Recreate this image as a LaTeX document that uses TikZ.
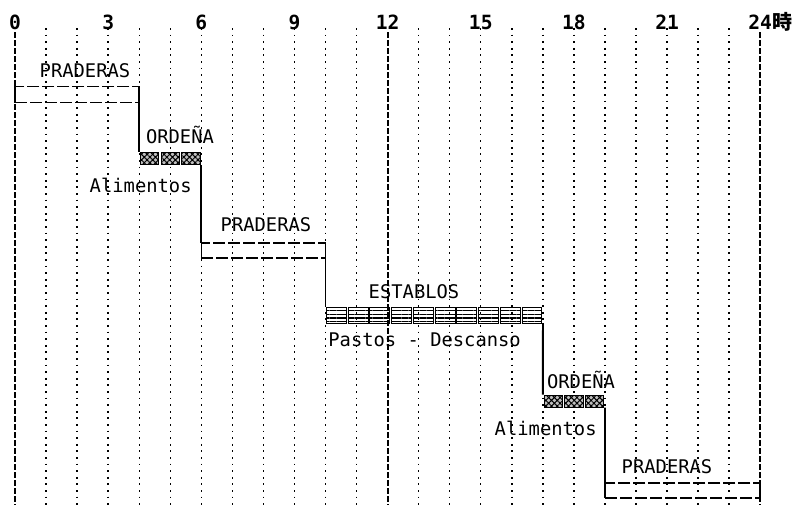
\documentclass[tikz,border=0pt]{standalone}
\usepackage{fontspec}
\setmonofont{DejaVu Sans Mono}
\newfontfamily\cjk{Noto Sans CJK JP}
\usepackage{tikz}
\usetikzlibrary{calc,patterns,patterns.meta}

\begin{document}
\begin{tikzpicture}[x=0.5pt, y=-0.5pt,
    every node/.style={font=\ttfamily\fontsize{9.4}{11}\selectfont, inner sep=0pt},
    hourline/.style={line width=0.7pt, dash pattern=on 0.9pt off 2.4pt},
    mainline/.style={line width=1pt, dash pattern=on 3pt off 1pt},
    pasture/.style={draw, line width=0.7pt, dash pattern=on 6pt off 1.5pt, minimum height=8pt, outer sep=0pt,
        append after command={(\tikzlastnode.north west) edge[solid, line width=0.8pt] (\tikzlastnode.south west)
            (\tikzlastnode.north east) edge[solid, line width=0.8pt] (\tikzlastnode.south east)}},
    slot/.style={minimum height=6.5pt, outer sep=0pt},
    checker/.style={draw, line width=0.4pt, fill=gray!50, postaction={pattern={Hatch[angle=45,distance=2pt,line width=0.5pt]}}},
    stable/.style={draw, line width=0.5pt, pattern={Lines[angle=0,distance=1.8pt,line width=0.7pt]}},
    link/.style={line width=0.9pt}]
        \useasboundingbox (0,0) rectangle (793,505);

        % hour grid
        \foreach \h in {1,...,11,13,14,...,23} {
            \draw[hourline] ({15+31.05*\h},28) -- ({15+31.05*\h},505);
        }
        \foreach \h in {0,12,24} {\draw[mainline] ({15+31.05*\h},32) -- ({15+31.05*\h},505);}
        \foreach \h in {0,3,...,21} {\node[font=\ttfamily\bfseries\fontsize{9.8}{11}\selectfont] (t\h) at ({15+31.05*\h},22) {\h};}
        \node[font=\ttfamily\bfseries\fontsize{9.8}{11}\selectfont] (t24) at (760.2,22) {24};
        \node[anchor=west, font=\cjk\bfseries\fontsize{10}{11}\selectfont] (ji) at (t24.east) {時};

        % pasture, milking, stable blocks
        \node[pasture, minimum width=62.1pt] (p1) at (77.1,94.5) {};
        \node[slot, minimum width=31.05pt] (o1) at (170.25,158.5) {};
        \foreach \i in {0,1,2} {\draw[checker] ($(o1.north west)+(\i*10.35pt+0.6pt,-0.3pt)$) rectangle ++(9.2pt,-5.9pt);}
        \node[pasture, minimum width=62.1pt, minimum height=7.5pt] (p2) at (263.4,250.5) {};
        \node[slot, minimum width=108.7pt, minimum height=8pt] (e) at (434.2,315) {};
        \foreach \i in {0,...,9} {\draw[stable] ($(e.north west)+(\i*10.87pt+0.5pt,0)$) rectangle ++(9.9pt,-8pt);}
        \node[slot, minimum width=31.05pt] (o2) at (573.9,401) {};
        \foreach \i in {0,1,2} {\draw[checker] ($(o2.north west)+(\i*10.35pt+0.6pt,-0.3pt)$) rectangle ++(9.2pt,-5.9pt);}
        \node[pasture, minimum width=77.6pt, minimum height=7.5pt] (p3) at (682.6,490.5) {};

        % transitions
        \draw[link] (p1.south east) -- (o1.north west);
        \draw[link] (o1.south east) -- (p2.north west);
        \draw[link] (p2.south east) -- (e.north west);
        \draw[link] (e.south east) -- (o2.north west);
        \draw[link] (o2.south east) -- (p3.north west);

        % labels
        \node (lp1) at (85,71) {PRADERAS};
        \node (lo1) at (180,135) {ORDEÑA};
        \node[anchor=east] (la1) at (192,185) {Alimentos};
        \node (lp2) at (266,225) {PRADERAS};
        \node (le) at (414,292) {ESTABLOS};
        \node[anchor=west] (ld) at (328,340) {Pastos - Descanso};
        \node (lo2) at (581,380) {ORDEÑA};
        \node[anchor=east] (la2) at (597,428) {Alimentos};
        \node (lp3) at (667,467) {PRADERAS};
    \end{tikzpicture}
\end{document}
